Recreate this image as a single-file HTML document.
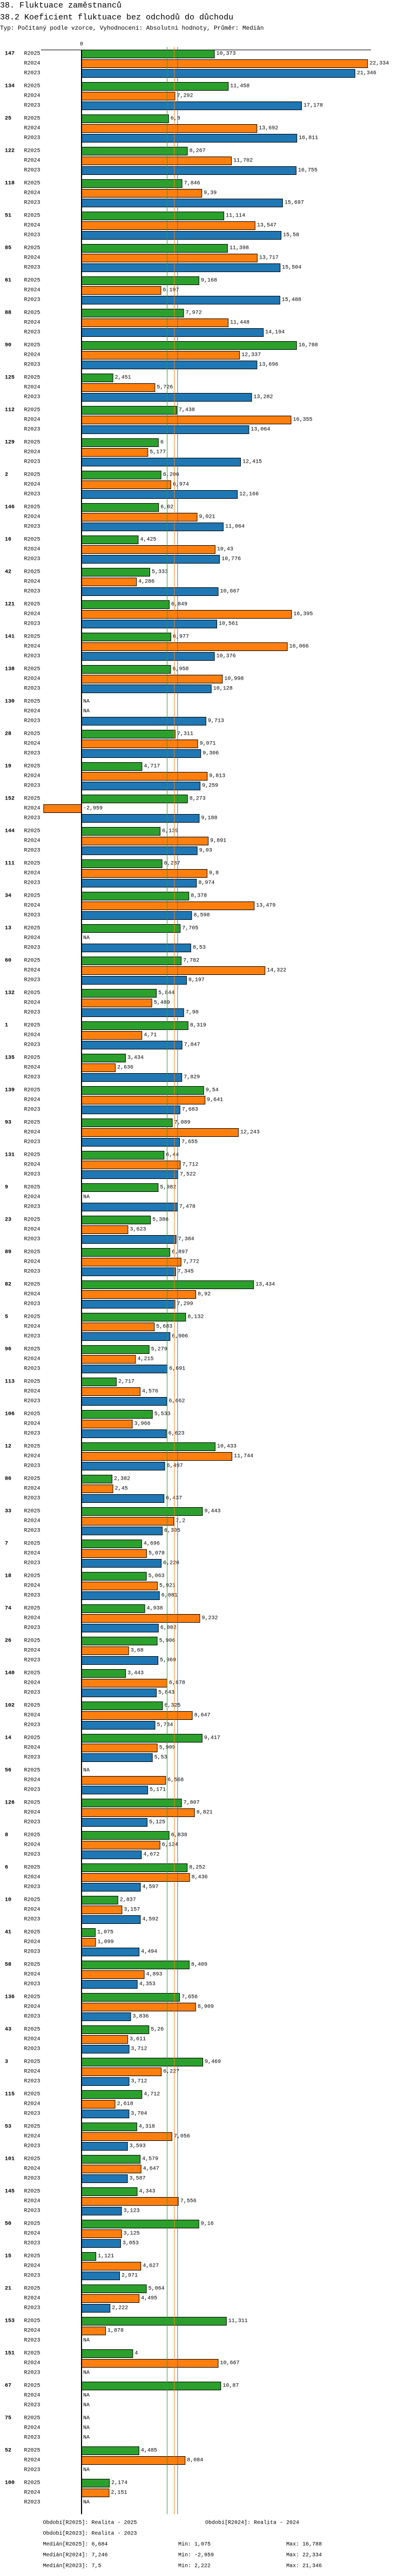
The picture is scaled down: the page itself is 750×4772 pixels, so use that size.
<!DOCTYPE html>
<html><head><meta charset="utf-8">
<style>
html,body{margin:0;padding:0;background:#fff;}
body{width:750px;height:4772px;overflow:hidden;font-family:"Liberation Mono",monospace;}
svg{display:block;}
.t{font-family:"Liberation Mono",monospace;fill:#000;}
</style></head>
<body>
<svg id="chart" width="750" height="4772" xmlns="http://www.w3.org/2000/svg">
<text class="t" x="0" y="14" font-size="15">38. Fluktuace zaměstnanců</text>
<text class="t" x="0" y="36" font-size="15">38.2 Koeficient fluktuace bez odchodů do důchodu</text>
<text class="t" x="0" y="55" font-size="11">Typ: Počítaný podle vzorce, Vyhodnocení: Absolutní hodnoty, Průměr: Medián</text>
<g id="plot"></g>
<g id="legend"></g>
</svg>
<script>
const groups = [147,134,25,122,118,51,85,61,88,90,125,112,129,2,146,16,42,121,141,138,130,28,19,152,144,111,34,13,60,132,1,135,139,93,131,9,23,89,82,5,96,113,106,12,86,33,7,18,74,26,140,102,14,56,126,8,6,10,41,58,136,43,3,115,53,101,145,50,15,21,153,151,67,75,52,100];
const series = ["R2025","R2024","R2023"];
const v2025 = [10.373,11.458,6.8,8.267,7.846,11.114,11.398,9.168,7.972,16.788,2.451,7.438,6,6.206,6.02,4.425,5.333,6.849,6.977,6.958,null,7.311,4.717,8.273,6.139,6.287,8.378,7.705,7.782,5.844,8.319,3.434,9.54,7.089,6.44,5.982,5.386,6.897,13.434,8.132,5.279,2.717,5.533,10.433,2.382,9.443,4.696,5.063,4.938,5.906,3.443,6.325,9.417,null,7.807,6.838,8.252,2.837,1.075,8.409,7.656,5.26,9.469,4.712,4.318,4.579,4.343,9.16,1.121,5.064,11.311,4,10.87,null,4.485,2.174];
const v2024 = [22.334,7.292,13.692,11.702,9.39,13.547,13.717,6.197,11.448,12.337,5.726,16.355,5.177,6.974,9.021,10.43,4.286,16.395,16.066,10.998,null,9.071,9.813,-2.959,9.891,9.8,13.479,null,14.322,5.489,4.71,2.636,9.641,12.243,7.712,null,3.623,7.772,8.92,5.683,4.215,4.576,3.966,11.744,2.45,7.2,5.078,5.921,9.232,3.68,6.678,8.647,5.909,6.568,8.821,6.124,8.436,3.157,1.099,4.893,8.909,3.611,6.227,2.618,7.056,4.647,7.556,3.125,4.627,4.495,1.878,10.667,null,null,8.084,2.151];
const v2023 = [21.346,17.178,16.811,16.755,15.697,15.58,15.504,15.488,14.194,13.696,13.282,13.064,12.415,12.166,11.064,10.776,10.667,10.561,10.376,10.128,9.713,9.306,9.259,9.188,9.03,8.974,8.598,8.53,8.197,7.98,7.847,7.829,7.683,7.655,7.522,7.478,7.384,7.345,7.299,6.906,6.691,6.662,6.623,6.497,6.437,6.305,6.226,6.081,6.002,5.969,5.843,5.734,5.53,5.171,5.125,4.672,4.597,4.592,4.494,4.353,3.836,3.712,3.712,3.704,3.593,3.587,3.123,3.053,2.971,2.222,null,null,null,null,null,null];
const medians = [6.684,7.246,7.5];
const colors = ["#2ca02c","#ff7f0e","#1f77b4"];

const NS="http://www.w3.org/2000/svg";
const X0=151, SCALE=23.72, TOP=92, GROUP_H=60, ROW_H=18, BAR_H=15;
function xs(v){return X0+v*SCALE;}
function ys(g,s){return TOP+g*GROUP_H+s*ROW_H+0.5;}
function mk(tag,attrs,parent){const e=document.createElementNS(NS,tag);for(const k in attrs)e.setAttribute(k,attrs[k]);parent.appendChild(e);return e;}
function fmt(v){return String(v).replace('.',',');}
const plot=document.getElementById('plot');
const bottom=ys(groups.length-1,2)+BAR_H+14;

const zl=mk('text',{x:X0,y:84,'font-size':10,'text-anchor':'middle',class:'t'},plot);
zl.textContent='0';


const ax=mk('line',{x1:76,x2:687,y1:92.5,y2:92.5,stroke:'#000','stroke-width':1},plot);



const allSeries=[v2025,v2024,v2023];
groups.forEach((g,gi)=>{
  const gl=mk('text',{x:9,y:ys(gi,0)+BAR_H/2,'font-size':10,'font-weight':'bold','dominant-baseline':'central',class:'t'},plot);
  gl.textContent=g;
  
  
  series.forEach((s,si)=>{
    const y=ys(gi,si);
    const sl=mk('text',{x:44.5,y:y+BAR_H/2,'font-size':10,'dominant-baseline':'central',class:'t'},plot);
    sl.textContent=s;
    
    
    const v=allSeries[si][gi];
    if(v===null){
      const na=mk('text',{x:X0+3,y:y+BAR_H/2,'font-size':10,'dominant-baseline':'central',class:'t'},plot);
      na.textContent='NA';
      
      
      return;
    }
    const x1=Math.min(xs(0),xs(v)), x2=Math.max(xs(0),xs(v));
    const r=mk('rect',{x:x1,y:y,width:x2-x1,height:BAR_H,fill:colors[si],stroke:'#000','stroke-width':1},plot);
    
    
    const vl=mk('text',{x:(v<0?X0+3:x2+3.5),y:y+BAR_H/2,'font-size':10,'dominant-baseline':'central',class:'t'},plot);
    vl.textContent=fmt(v);
    
    
  });
});

medians.forEach((m,i)=>{
  const l=mk('line',{x1:xs(m),x2:xs(m),y1:87,y2:bottom,stroke:colors[i],'stroke-width':1},plot);
  
  
});
const zero=mk('line',{x1:X0,x2:X0,y1:92,y2:bottom,stroke:'#000','stroke-width':2},plot);



const legendLines=[
  [79.5,4674,'Období[R2025]: Realita - 2025'],
  [380,4674,'Období[R2024]: Realita - 2024'],
  [79.5,4694,'Období[R2023]: Realita - 2023'],
  [79.5,4714,'Medián[R2025]: 6,684'],[330,4714,'Min: 1,075'],[530,4714,'Max: 16,788'],
  [79.5,4734,'Medián[R2024]: 7,246'],[330,4734,'Min: -2,959'],[530,4734,'Max: 22,334'],
  [79.5,4754,'Medián[R2023]: 7,5'],[330,4754,'Min: 2,222'],[530,4754,'Max: 21,346']
];
const leg=document.getElementById('legend');
legendLines.forEach(([x,y,t])=>{
  const e=mk('text',{x:x,y:y,'font-size':10,'dominant-baseline':'central',class:'t'},leg);
  e.textContent=t;
  
  
});
</script>
</body></html>
